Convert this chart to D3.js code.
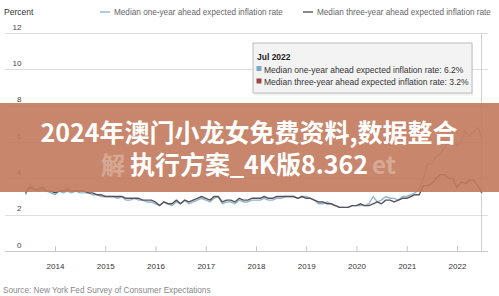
<!DOCTYPE html>
<html>
<head>
<meta charset="utf-8">
<script src="https://cdn.jsdelivr.net/npm/d3@7/dist/d3.min.js"></script>
<style>
  html, body { margin: 0; padding: 0; background: #fff; }
  svg { display: block; font-family: 'Liberation Sans', Arial, sans-serif; }
</style>
</head>
<body>
<div id="chart"></div>
<script>
// ─── Data ─────────────────────────────────────────────────────────────────────
const seriesNames = [
  'Median one-year ahead expected inflation rate',
  'Median three-year ahead expected inflation rate',
]

// monthly, Jun 2013 .. Jul 2022
const oneYear = [
  3.1, 3.7, 3.4, 3.3, 3.4, 3.3, 3.2,
  3.1, 3.3, 3.2, 3.3, 3.2, 3.3, 3.2, 3.2, 3.2, 3.1, 3.1, 3.0,
  3.0, 3.0, 3.0, 2.9, 3.0, 2.8, 2.8, 2.9, 2.8, 2.8, 2.7, 2.7,
  2.6, 2.5, 2.7, 2.6, 2.5, 2.7, 2.6, 2.8, 2.6, 2.7, 2.8, 2.9,
  2.8, 2.7, 2.9, 3.0, 2.6, 2.7, 2.7, 2.6, 2.8, 2.7, 2.7, 2.8,
  2.8, 2.8, 2.9, 2.8, 2.8, 2.9, 2.9, 3.0, 3.0, 3.0, 2.9, 3.0,
  3.0, 2.9, 2.8, 2.6, 2.6, 2.7, 2.6, 2.5, 2.4, 2.4, 2.4, 2.5,
  2.5, 2.5, 2.5, 2.6, 3.0, 2.7, 2.8, 3.0, 2.9, 2.9, 2.8, 3.0,
  3.0, 3.1, 3.2, 3.4, 4.0, 4.8, 4.8, 5.2, 5.3, 5.7, 6.0, 6.0,
  5.8, 6.0, 6.6, 6.3, 6.6, 6.8, 6.2,
]
const threeYear = [
  3.2, 3.5, 3.4, 3.4, 3.5, 3.3, 3.3,
  3.2, 3.3, 3.3, 3.4, 3.3, 3.3, 3.3, 3.3, 3.2, 3.2, 3.1, 3.1,
  3.0, 3.0, 3.0, 3.0, 3.0, 2.9, 2.9, 2.9, 2.9, 2.8, 2.8, 2.8,
  2.7, 2.5, 2.7, 2.6, 2.6, 2.8, 2.6, 2.8, 2.7, 2.8, 2.9, 3.0,
  2.9, 2.8, 3.0, 3.0, 2.7, 2.8, 2.8, 2.7, 2.9, 2.8, 2.8, 2.9,
  2.9, 2.9, 3.0, 2.9, 2.9, 3.0, 3.0, 3.0, 3.0, 3.0, 2.9, 3.0,
  2.9, 2.9, 2.8, 2.7, 2.7, 2.6, 2.6, 2.5, 2.4, 2.4, 2.4, 2.5,
  2.5, 2.6, 2.5, 2.5, 2.6, 2.7, 2.6, 2.8, 2.8, 2.7, 2.8, 2.9,
  2.9, 3.0, 3.1, 3.1, 3.6, 3.6, 3.7, 4.0, 4.2, 4.2, 4.0, 4.0,
  3.5, 3.8, 3.7, 3.9, 3.9, 3.6, 3.2,
]

const yTicks = [0, 2, 4, 6, 8, 10, 12]
const xTickYears = [2014, 2015, 2016, 2017, 2018, 2019, 2020, 2021, 2022]

const tooltipTitle = 'Jul 2022'
const tooltipValues = ['6.2%', '3.2%']

const bannerLines = ['2024年澳门小龙女免费资料,数据整合', '执行方案_4K版8.362']
const sourceText = 'Source: New York Fed Survey of Consumer Expectations'

// ─── Layout ───────────────────────────────────────────────────────────────────
const W = 499, H = 296
const LINE_COLORS = ['#8db8cf', '#5d5159']
const SWATCH_COLORS = ['#7aa8c8', '#9e4646']

const months = d3.timeMonth.range(new Date(2013, 5, 1), new Date(2022, 7, 1))

const x = d3.scaleTime()
  .domain([new Date(2014, 0, 1), new Date(2022, 0, 1)])
  .range([55, 457])
const y = d3.scaleLinear().domain([0, 12]).range([251, 33])

const svg = d3.select('#chart').append('svg')
  .attr('width', W).attr('height', H)
  .attr('viewBox', `0 0 ${W} ${H}`)

// ── Gridlines + y labels ───────────────────────────────────────────────────────
const gridG = svg.append('g')
gridG.selectAll('line')
  .data(yTicks)
  .join('line')
  .attr('x1', 5).attr('x2', 488)
  .attr('y1', d => Math.round(y(d)) + 0.5)
  .attr('y2', d => Math.round(y(d)) + 0.5)
  .attr('stroke', d => d === 0 ? '#c8c8c8' : '#dedede')
  .attr('stroke-width', 1)

gridG.selectAll('text')
  .data(yTicks)
  .join('text')
  .attr('x', 21.5)
  .attr('y', d => y(d) - 3.5)
  .attr('text-anchor', 'end')
  .attr('font-size', 8)
  .attr('fill', '#444')
  .text(d => d)

// ── X axis (ticks point up into the plot) ──────────────────────────────────────
const xAxis = d3.axisBottom(x)
  .tickValues(xTickYears.map(yr => new Date(yr, 0, 1)))
  .tickFormat(d3.timeFormat('%Y'))
  .tickSizeInner(-5)
  .tickSizeOuter(0)
  .tickPadding(12)

const axG = svg.append('g')
  .attr('transform', `translate(0,${Math.round(y(0))})`)
  .call(xAxis)
axG.select('.domain').remove()
axG.selectAll('.tick line').attr('stroke', '#c8c8c8')
axG.selectAll('.tick text')
  .attr('font-size', 8)
  .attr('fill', '#333')
  .attr('font-family', 'Liberation Sans, Arial, sans-serif')

// crosshair at the hovered month
svg.append('line')
  .attr('x1', Math.round(x(months[months.length - 1])) - 0.5)
  .attr('x2', Math.round(x(months[months.length - 1])) - 0.5)
  .attr('y1', y(12)).attr('y2', y(0))
  .attr('stroke', '#cfcfcf')

// ── Lines ──────────────────────────────────────────────────────────────────────
const line = d3.line()
  .x((d, i) => x(months[i]))
  .y(d => y(d))

;[oneYear, threeYear].forEach((vals, i) => {
  svg.append('path')
    .datum(vals)
    .attr('fill', 'none')
    .attr('stroke', LINE_COLORS[i])
    .attr('stroke-width', 1.4)
    .attr('stroke-linejoin', 'round')
    .attr('d', line)
})

// ── Legend ─────────────────────────────────────────────────────────────────────
svg.append('text')
  .attr('x', 4).attr('y', 15)
  .attr('font-size', 8.5).attr('fill', '#333')
  .text('Percent')

const legendX = [100, 303]
seriesNames.forEach((name, i) => {
  const g = svg.append('g').attr('transform', `translate(${legendX[i]},12)`)
  g.append('line')
    .attr('x1', 0).attr('x2', 10)
    .attr('stroke', LINE_COLORS[i])
    .attr('stroke-width', 1.4)
  g.append('text')
    .attr('x', 14).attr('y', 3)
    .attr('font-size', 8.2)
    .attr('fill', '#666')
    .text(name)
})

// ── Tooltip ────────────────────────────────────────────────────────────────────
const tip = svg.append('g').attr('transform', 'translate(253,43)')
tip.append('rect')
  .attr('x', 1).attr('y', 1.5)
  .attr('width', 219).attr('height', 51)
  .attr('fill', '#000').attr('opacity', 0.06)
tip.append('rect')
  .attr('width', 219).attr('height', 50)
  .attr('fill', '#f3f3f3')
  .attr('stroke', '#bdbdbd')
tip.append('text')
  .attr('x', 4).attr('y', 16.5)
  .attr('font-size', 8.5).attr('font-weight', 'bold').attr('fill', '#222')
  .text(tooltipTitle)
seriesNames.forEach((name, i) => {
  const ry = 29.5 + i * 12.5
  tip.append('rect')
    .attr('x', 3.5).attr('y', ry - 6.5)
    .attr('width', 5).attr('height', 5)
    .attr('fill', SWATCH_COLORS[i])
  tip.append('text')
    .attr('x', 11).attr('y', ry)
    .attr('font-size', 8.5).attr('fill', '#333')
    .text(`${name}: ${tooltipValues[i]}`)
})

// ── Banner overlay ─────────────────────────────────────────────────────────────
svg.append('rect')
  .attr('x', 0).attr('y', 103)
  .attr('width', W).attr('height', 89)
  .attr('fill', '#c27a5c')
  .attr('opacity', 0.9)

const bannerFont = "'Noto Sans CJK SC', 'Noto Sans', sans-serif"
// faint echo text peeking out behind second row
;[['解', 113], ['et', 384]].forEach(([t, px]) => {
  svg.append('text')
    .attr('x', px).attr('y', 174)
    .attr('text-anchor', 'middle')
    .attr('font-family', bannerFont)
    .attr('font-size', 24).attr('font-weight', 'bold')
    .attr('fill', '#fff').attr('opacity', 0.28)
    .text(t)
})

bannerLines.forEach((t, i) => {
  svg.append('text')
    .attr('x', 249).attr('y', 142 + i * 32)
    .attr('text-anchor', 'middle')
    .attr('font-family', bannerFont)
    .attr('font-size', 25).attr('font-weight', 'bold')
    .attr('fill', '#fff')
    .text(t)
})

// ── Source ─────────────────────────────────────────────────────────────────────
svg.append('text')
  .attr('x', 3).attr('y', 293)
  .attr('font-size', 8.2).attr('fill', '#888')
  .text(sourceText)
</script>
</body>
</html>
